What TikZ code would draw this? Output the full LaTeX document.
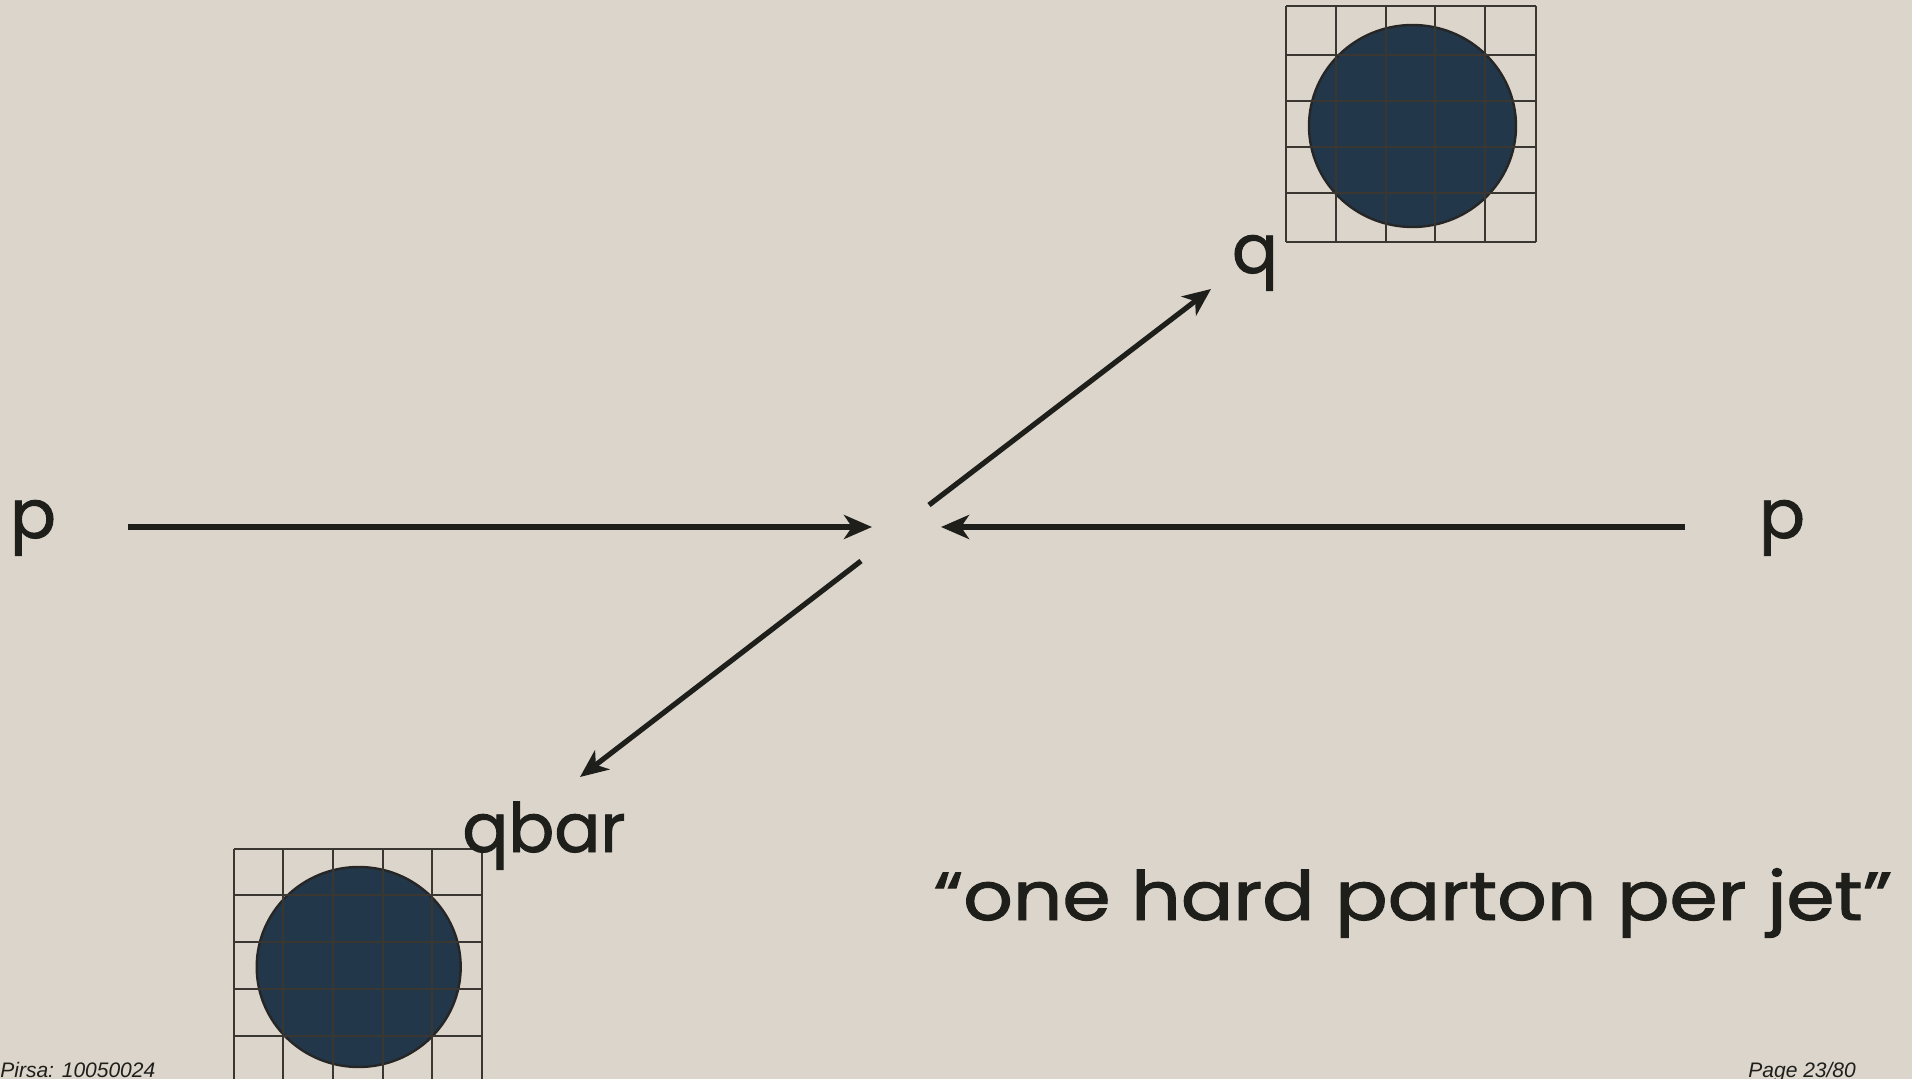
\documentclass[tikz,border=0pt]{standalone}
\usepackage{fontspec}
\setmainfont{Poppins}[FakeBold=1.4]
\newfontfamily\footfont{Liberation Sans}
\usetikzlibrary{arrows.meta}
\definecolor{bg}{HTML}{DCD5CB}
\definecolor{blob}{HTML}{22374A}
\definecolor{ink}{HTML}{1E1E1B}
\definecolor{gridc}{HTML}{3A3632}
\begin{document}
\begin{tikzpicture}[x=0.5pt,y=-0.5pt,
  lbl/.style={text=ink,font=\fontsize{34}{40}\selectfont,inner sep=0pt},
  foot/.style={font=\footfont\itshape\fontsize{10.5}{12}\selectfont,text=ink,inner sep=0pt},
  arr/.style={draw=ink,line width=2.6pt,-{Stealth[length=14pt,width=12pt,inset=4pt]}},
  jetgrid/.style={draw=gridc,line width=1.1pt},
  blobstyle/.style={fill=blob,draw=black!85,line width=1.2pt}]
\useasboundingbox[fill=bg] (0,0) rectangle (1912,1079);
\begin{scope}
\clip (0,0) rectangle (1912,1079);
% top jet (q)
\fill[blobstyle] (1412.5,126) ellipse [x radius=103.5, y radius=101];
\foreach \xx in {1286,1335.7,1385.7,1435,1485,1535.7}
  \draw[jetgrid] (\xx,6) -- (\xx,241.7);
\foreach \yy in {6,55,100.7,146.7,192.7,241.7}
  \draw[jetgrid] (1286,\yy) -- (1535.7,\yy);
% bottom jet (qbar)
\fill[blobstyle] (358.7,967) ellipse [x radius=102, y radius=100];
\foreach \xx in {234,282.7,332.7,382.7,432,482.3}
  \draw[jetgrid] (\xx,849.3) -- (\xx,1090);
\foreach \yy in {849.3,895,942,989,1036}
  \draw[jetgrid] (234,\yy) -- (482.3,\yy);
\end{scope}
% labels
\node[lbl,anchor=base] (pl) at (33,538) {p};
\node[lbl,anchor=base] (pr) at (1782,538) {p};
\node[lbl,anchor=base] (q) at (1255,273) {q};
\node[lbl,anchor=base] (qbar) at (544,852) {qbar};
\node[lbl,anchor=base] (quote) at (1413,920) {\scalebox{1.14}[1]{“one hard parton per jet”}};
\node[foot,anchor=base west] (pirsa) at (0,1077) {Pirsa: 10050024};
\node[foot,anchor=base west] (page) at (1748,1077) {Page 23/80};
% arrow end points
\coordinate (pls) at (128,527);
\coordinate (plt) at (872,527);
\coordinate (prs) at (1685,527);
\coordinate (prt) at (941,527);
\coordinate (qs) at (929,505);
\coordinate (qt) at (1211,289);
\coordinate (qbs) at (861,561);
\coordinate (qbt) at (580,777);
\draw[arr] (pls) -- (plt);
\draw[arr] (prs) -- (prt);
\draw[arr] (qs) -- (qt);
\draw[arr] (qbs) -- (qbt);
\end{tikzpicture}
\end{document}
